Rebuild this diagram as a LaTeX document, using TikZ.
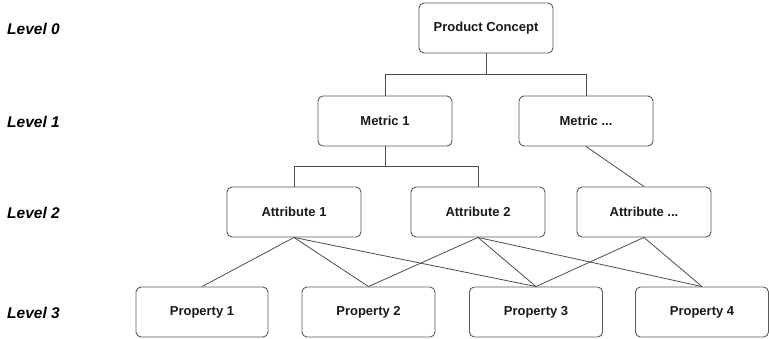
\documentclass[tikz,border=0pt]{standalone}
\usepackage{fontspec}
\setmainfont{Liberation Sans}
\begin{document}
\begin{tikzpicture}[x=1pt,y=-1pt,
  box/.style={draw=black!65,line width=0.9pt,rounded corners=5pt,minimum width=134pt,minimum height=50pt,inner sep=0pt,font=\fontsize{13}{15}\selectfont\bfseries,text=black!90},
  lvl/.style={anchor=west,inner sep=0pt,font=\fontsize{15.5}{18}\selectfont\bfseries\itshape},
  link/.style={draw=black!70,line width=0.8pt}]
\useasboundingbox (0,0) rectangle (769,338);
\node[lvl] (l0) at (7,29) {Level 0};
\node[lvl] (l1) at (7,122) {Level 1};
\node[lvl] (l2) at (7,213) {Level 2};
\node[lvl] (l3) at (7,313) {Level 3};
\node[box] (pc) at (486,28) {Product Concept};
\node[box] (m1) at (385,121) {Metric 1};
\node[box] (m2) at (586,121) {Metric ...};
\node[box] (a1) at (294,212) {Attribute 1};
\node[box] (a2) at (478,212) {Attribute 2};
\node[box] (a3) at (644,212) {Attribute ...};
\node[box,minimum width=132pt] (p1) at (202,312) {Property 1};
\node[box,minimum width=133pt] (p2) at (368.5,312) {Property 2};
\node[box,minimum width=133pt] (p3) at (536,312) {Property 3};
\node[box,minimum width=133pt] (p4) at (702,312) {Property 4};
\draw[link] (pc.south) -- ++(0,21) -| (m1.north);
\draw[link] (pc.south) -- ++(0,21) -| (m2.north);
\draw[link] (m1.south) -- ++(0,20) -| (a1.north);
\draw[link] (m1.south) -- ++(0,20) -| (a2.north);
\draw[link] (m2.south) -- (a3.north);
\draw[link] (a1.south) -- (p1.north);
\draw[link] (a1.south) -- (p2.north);
\draw[link] (a1.south) -- (p3.north);
\draw[link] (a2.south) -- (p2.north);
\draw[link] (a2.south) -- (p3.north);
\draw[link] (a2.south) -- (p4.north);
\draw[link] (a3.south) -- (p3.north);
\draw[link] (a3.south) -- (p4.north);
\end{tikzpicture}
\end{document}
